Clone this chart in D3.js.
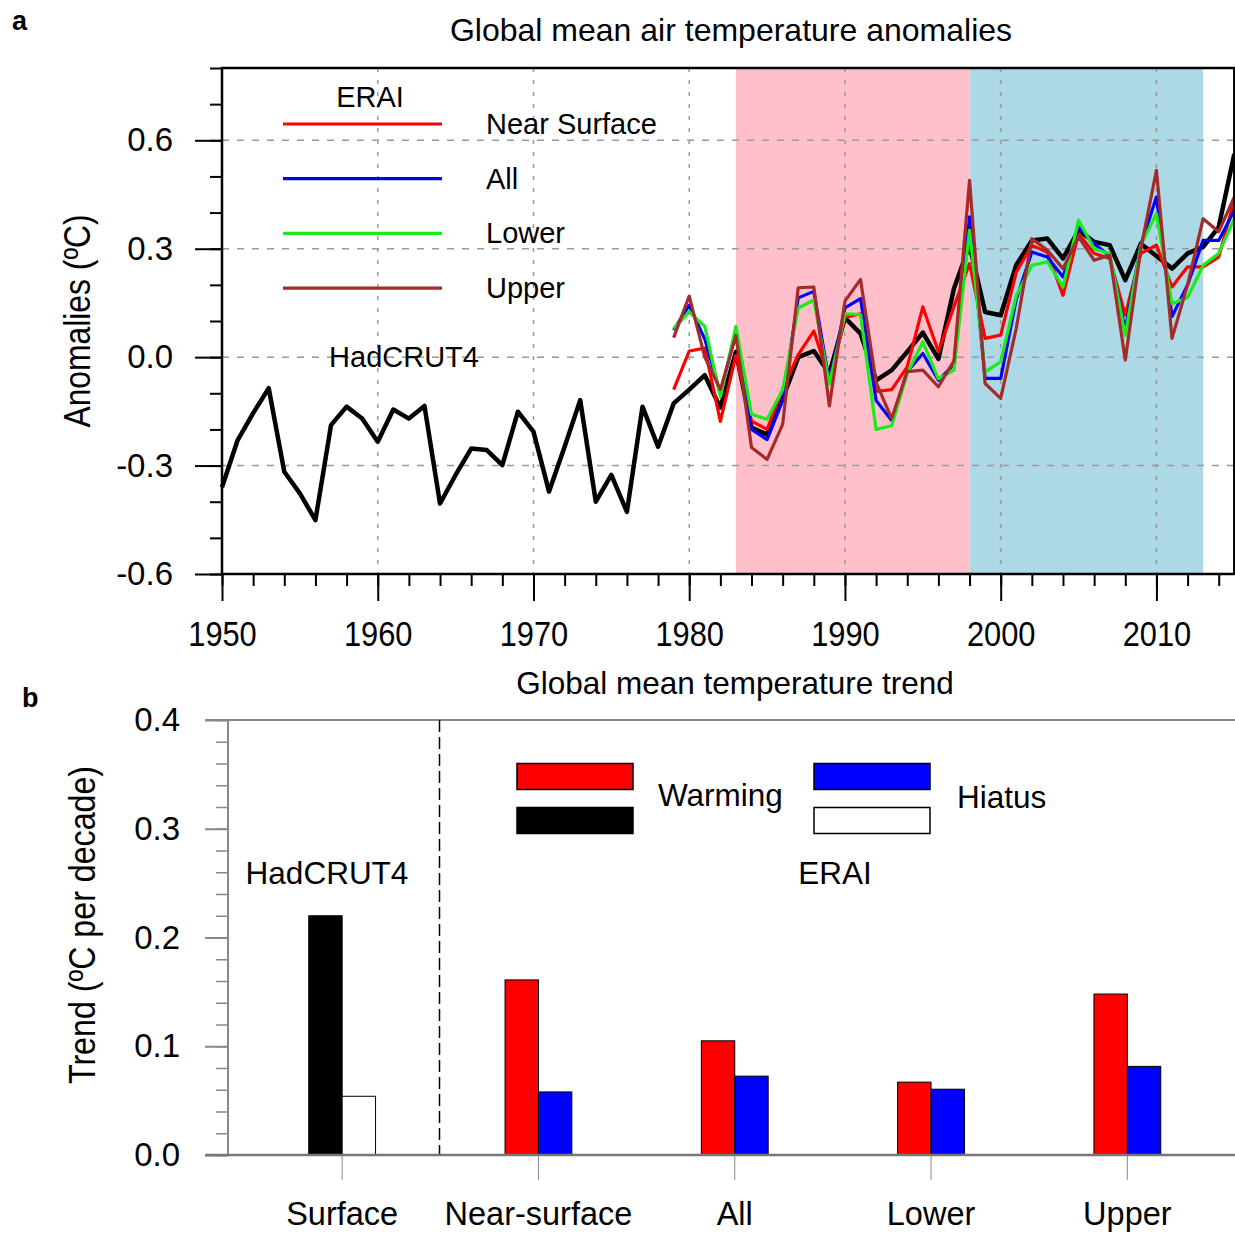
<!DOCTYPE html>
<html>
<head>
<meta charset="utf-8">
<script src="https://cdn.jsdelivr.net/npm/d3@7/dist/d3.min.js"></script>
<style>
  body { margin: 0; background: #fff; }
  svg { display: block; font-family: 'Liberation Sans', Arial, Helvetica, sans-serif; }
</style>
</head>
<body>
<svg id="chart" width="1235" height="1239"></svg>
<script>
// ---- panel a data ----
const hadYears = d3.range(1950, 2016);
const hadcrut4 = [
  -0.36, -0.23, -0.155, -0.086, -0.317, -0.377, -0.451, -0.188, -0.137, -0.17,
  -0.234, -0.145, -0.17, -0.135, -0.405, -0.326, -0.253, -0.257, -0.299, -0.151,
  -0.206, -0.372, -0.248, -0.119, -0.4, -0.326, -0.428, -0.137, -0.248, -0.128,
  -0.09, -0.05, -0.14, 0.015, -0.195, -0.214, -0.115, 0.0, 0.017, -0.045,
  0.109, 0.065, -0.064, -0.036, 0.015, 0.068, -0.005, 0.19, 0.31, 0.125,
  0.116, 0.255, 0.323, 0.328, 0.273, 0.351, 0.319, 0.31, 0.213, 0.314,
  0.28, 0.245, 0.287, 0.305, 0.36, 0.562
];
const eraiYears = d3.range(1979, 2016);
const eraiNear = [
  -0.09, 0.017, 0.025, -0.178, 0.005, -0.177, -0.2, -0.09, 0.007, 0.072,
  -0.06, 0.11, 0.12, -0.095, -0.09, -0.027, 0.139, 0.015, 0.14, 0.259,
  0.052, 0.061, 0.235, 0.31, 0.29, 0.171, 0.342, 0.287, 0.273, 0.116,
  0.287, 0.31, 0.194, 0.25, 0.25, 0.277, 0.434
];
const eraiAll = [
  0.075, 0.144, 0.05, -0.1, 0.07, -0.2, -0.228, -0.12, 0.164, 0.182,
  -0.07, 0.136, 0.162, -0.12, -0.175, -0.04, 0.01, -0.064, -0.02, 0.388,
  -0.059, -0.059, 0.16, 0.291, 0.277, 0.222, 0.36, 0.314, 0.28, 0.075,
  0.31, 0.443, 0.112, 0.2, 0.323, 0.323, 0.406
];
const eraiLower = [
  0.079, 0.125, 0.085, -0.11, 0.085, -0.158, -0.172, -0.09, 0.136, 0.158,
  -0.075, 0.12, 0.118, -0.2, -0.19, -0.045, 0.042, -0.06, -0.036, 0.351,
  -0.041, -0.013, 0.17, 0.254, 0.264, 0.194, 0.379, 0.3, 0.287, 0.06,
  0.31, 0.397, 0.148, 0.165, 0.254, 0.287, 0.383
];
const eraiUpper = [
  0.054, 0.169, 0.0, -0.09, 0.06, -0.25, -0.283, -0.186, 0.192, 0.194,
  -0.135, 0.155, 0.215, -0.07, -0.17, -0.04, -0.036, -0.082, -0.01, 0.489,
  -0.073, -0.114, 0.08, 0.328, 0.296, 0.245, 0.333, 0.268, 0.282, -0.008,
  0.3, 0.517, 0.052, 0.2, 0.383, 0.347, 0.443
];
const eraiNames = ['Near Surface', 'All', 'Lower', 'Upper'];
const warmingPeriod = [1983, 1998];
const hiatusPeriod = [1998, 2013];
const yTicksA = [-0.6, -0.3, 0.0, 0.3, 0.6];
const xTicksA = [1950, 1960, 1970, 1980, 1990, 2000, 2010];

// ---- panel b data ----
const trendCategories = ['Surface', 'Near-surface', 'All', 'Lower', 'Upper'];
const warmingTrend = [0.22, 0.161, 0.105, 0.067, 0.148];
const hiatusTrend = [0.054, 0.058, 0.0725, 0.0605, 0.0815];
const yTicksB = [0.0, 0.1, 0.2, 0.3, 0.4];

const eraiColors = ['#ff0000', '#0000ff', '#1aeb1a', '#a52a2a'];

const svg = d3.select('#chart');

// =================== panel a ===================
const x = d3.scaleLinear().domain([1950, 2015]).range([222, 1234.3]);
const y = d3.scaleLinear().domain([-0.6, 0.8]).range([574, 68]);

const gA = svg.append('g');

gA.append('rect')
    .attr('x', x(warmingPeriod[0])).attr('y', y(0.8))
    .attr('width', x(warmingPeriod[1]) - x(warmingPeriod[0]))
    .attr('height', y(-0.6) - y(0.8))
    .attr('fill', '#ffc0cb');
gA.append('rect')
    .attr('x', x(hiatusPeriod[0])).attr('y', y(0.8))
    .attr('width', x(hiatusPeriod[1]) - x(hiatusPeriod[0]))
    .attr('height', y(-0.6) - y(0.8))
    .attr('fill', '#add8e6');

// grid
gA.selectAll('.vgrid')
    .data(xTicksA.slice(1))
    .enter().append('line')
    .attr('x1', (d) => x(d)).attr('x2', (d) => x(d))
    .attr('y1', y(0.8)).attr('y2', y(-0.6))
    .attr('stroke', '#9a9a9a').attr('stroke-width', 1.5)
    .attr('stroke-dasharray', '4,8');
gA.selectAll('.hgrid')
    .data(yTicksA.slice(1))
    .enter().append('line')
    .attr('x1', x(1950)).attr('x2', x(2015))
    .attr('y1', (d) => y(d)).attr('y2', (d) => y(d))
    .attr('stroke', '#9a9a9a').attr('stroke-width', 1.5)
    .attr('stroke-dasharray', '7,8');

// lines
const line = d3.line()
    .x((d) => x(d[0]))
    .y((d) => y(d[1]));

gA.append('path')
    .datum(d3.zip(hadYears, hadcrut4))
    .attr('d', line)
    .attr('fill', 'none')
    .attr('stroke', '#000')
    .attr('stroke-width', 4.5)
    .attr('stroke-linejoin', 'round');

[eraiNear, eraiAll, eraiLower, eraiUpper].forEach((series, i) => {
  gA.append('path')
      .datum(d3.zip(eraiYears, series))
      .attr('d', line)
      .attr('fill', 'none')
      .attr('stroke', eraiColors[i])
      .attr('stroke-width', 3.2)
      .attr('stroke-linejoin', 'round');
});

// axes
const gy = gA.append('g')
    .attr('transform', 'translate(' + x(1950) + ',0)')
    .call(d3.axisLeft(y).tickValues(yTicksA).tickSize(27).tickPadding(22));
gy.select('.domain').remove();
gy.selectAll('line').attr('stroke', '#000').attr('stroke-width', 2);
gy.selectAll('text').attr('font-size', 33).attr('fill', '#000')
    .text((d) => d3.format('.1f')(d).replace('−', '-'));

gA.append('g')
    .attr('transform', 'translate(' + x(1950) + ',0)')
    .call(d3.axisLeft(y).tickValues(d3.range(-0.6, 0.81, 0.1)).tickSize(12).tickFormat(''))
    .call((g) => g.select('.domain').remove())
    .selectAll('line').attr('stroke', '#000').attr('stroke-width', 2);

const gx = gA.append('g')
    .attr('transform', 'translate(0,' + y(-0.6) + ')')
    .call(d3.axisBottom(x).tickValues(xTicksA).tickSize(27).tickPadding(20).tickFormat(d3.format('d')));
gx.select('.domain').remove();
gx.selectAll('line').attr('stroke', '#000').attr('stroke-width', 2);
gx.selectAll('text').attr('font-size', 35).attr('fill', '#000')
    .attr('transform', 'scale(0.88,1)');

gA.append('g')
    .attr('transform', 'translate(0,' + y(-0.6) + ')')
    .call(d3.axisBottom(x).tickValues(d3.range(1950, 2015, 2)).tickSize(12).tickFormat(''))
    .call((g) => g.select('.domain').remove())
    .selectAll('line').attr('stroke', '#000').attr('stroke-width', 2);

// frame
gA.append('rect')
    .attr('x', x(1950)).attr('y', y(0.8))
    .attr('width', x(2015) - x(1950)).attr('height', y(-0.6) - y(0.8))
    .attr('fill', 'none').attr('stroke', '#000').attr('stroke-width', 2.5);

// legend
gA.append('text')
    .attr('x', 370).attr('y', 107)
    .attr('text-anchor', 'middle').attr('font-size', 29)
    .text('ERAI');
const legA = gA.selectAll('.legA')
    .data(eraiNames)
    .enter().append('g')
    .attr('transform', (d, i) => 'translate(0,' + (124 + i * 54.7) + ')');
legA.append('line')
    .attr('x1', 283).attr('x2', 442)
    .attr('stroke', (d, i) => eraiColors[i]).attr('stroke-width', 3.2);
legA.append('text')
    .attr('x', 486).attr('y', 10)
    .attr('font-size', 29)
    .text((d) => d);

gA.append('text')
    .attr('x', 404).attr('y', 367)
    .attr('text-anchor', 'middle').attr('font-size', 29)
    .text('HadCRUT4');

// titles
svg.append('text')
    .attr('x', 731).attr('y', 41)
    .attr('text-anchor', 'middle').attr('font-size', 32)
    .text('Global mean air temperature anomalies');
svg.append('text')
    .attr('transform', 'translate(90,321) rotate(-90) scale(0.86,1)')
    .attr('text-anchor', 'middle').attr('font-size', 37)
    .text('Anomalies (ºC)');
svg.append('text')
    .attr('x', 12).attr('y', 30)
    .attr('font-size', 27).attr('font-weight', 'bold')
    .text('a');

// =================== panel b ===================
const xb = d3.scaleBand().domain(trendCategories).range([244, 1225.5]);
const yb = d3.scaleLinear().domain([0, 0.4]).range([1155, 720]);
const barW = 33.4;
const gB = svg.append('g');

svg.append('text')
    .attr('x', 735).attr('y', 694)
    .attr('text-anchor', 'middle').attr('font-size', 31.5)
    .text('Global mean temperature trend');
svg.append('text')
    .attr('x', 22).attr('y', 707)
    .attr('font-size', 27).attr('font-weight', 'bold')
    .text('b');

// frame lines
gB.append('line')
    .attr('x1', 205).attr('x2', 1235)
    .attr('y1', yb(0.4)).attr('y2', yb(0.4))
    .attr('stroke', '#888').attr('stroke-width', 2);
gB.append('line')
    .attr('x1', 228).attr('x2', 228)
    .attr('y1', yb(0.4)).attr('y2', yb(0))
    .attr('stroke', '#888').attr('stroke-width', 2);

// divider between datasets
gB.append('line')
    .attr('x1', 439.5).attr('x2', 439.5)
    .attr('y1', yb(0.4)).attr('y2', yb(0))
    .attr('stroke', '#000').attr('stroke-width', 1.5)
    .attr('stroke-dasharray', '12,5');

// y axis
const gyb = gB.append('g')
    .attr('transform', 'translate(228,0)')
    .call(d3.axisLeft(yb).tickValues(yTicksB).tickSize(23).tickPadding(25).tickFormat(d3.format('.1f')));
gyb.select('.domain').remove();
gyb.selectAll('line').attr('stroke', '#888').attr('stroke-width', 2);
gyb.selectAll('text').attr('font-size', 33).attr('fill', '#000');

gB.append('g')
    .attr('transform', 'translate(228,0)')
    .call(d3.axisLeft(yb).tickValues(d3.range(0, 0.401, 0.02)).tickSize(12).tickFormat(''))
    .call((g) => g.select('.domain').remove())
    .selectAll('line').attr('stroke', '#888').attr('stroke-width', 1.5);

// bars
const bars = gB.selectAll('.cat')
    .data(trendCategories)
    .enter().append('g');
bars.append('rect')
    .attr('x', (d) => xb(d) + xb.bandwidth() / 2 - barW)
    .attr('y', (d, i) => yb(warmingTrend[i]))
    .attr('width', barW)
    .attr('height', (d, i) => yb(0) - yb(warmingTrend[i]))
    .attr('fill', (d, i) => i === 0 ? '#000' : '#ff0000')
    .attr('stroke', '#000').attr('stroke-width', 1);
bars.append('rect')
    .attr('x', (d) => xb(d) + xb.bandwidth() / 2)
    .attr('y', (d, i) => yb(hiatusTrend[i]))
    .attr('width', barW)
    .attr('height', (d, i) => yb(0) - yb(hiatusTrend[i]))
    .attr('fill', (d, i) => i === 0 ? '#fff' : '#0000ff')
    .attr('stroke', '#000').attr('stroke-width', 1);

// baseline + category axis
gB.append('line')
    .attr('x1', 205).attr('x2', 1235)
    .attr('y1', yb(0)).attr('y2', yb(0))
    .attr('stroke', '#777').attr('stroke-width', 2.5);
const gxb = gB.append('g')
    .attr('transform', 'translate(0,' + yb(0) + ')')
    .call(d3.axisBottom(xb).tickSize(25).tickPadding(22));
gxb.select('.domain').remove();
gxb.selectAll('line').attr('stroke', '#888').attr('stroke-width', 1);
gxb.selectAll('text').attr('font-size', 32.5).attr('fill', '#000');

// legend b
const legB = [
  {x: 517, fill: ['#ff0000', '#000'], label: 'Warming', tx: 658, ty: 806},
  {x: 814, fill: ['#0000ff', '#fff'], label: 'Hiatus', tx: 957, ty: 808},
];
legB.forEach((l) => {
  l.fill.forEach((f, j) => {
    gB.append('rect')
        .attr('x', l.x).attr('y', 763.5 + j * 44)
        .attr('width', 116).attr('height', 26)
        .attr('fill', f).attr('stroke', '#000').attr('stroke-width', 1.5);
  });
  gB.append('text')
      .attr('x', l.tx).attr('y', l.ty)
      .attr('font-size', 31.5)
      .text(l.label);
});

gB.append('text')
    .attr('x', 327).attr('y', 884)
    .attr('text-anchor', 'middle').attr('font-size', 31.5)
    .text('HadCRUT4');
gB.append('text')
    .attr('x', 835).attr('y', 884)
    .attr('text-anchor', 'middle').attr('font-size', 31.5)
    .text('ERAI');

svg.append('text')
    .attr('transform', 'translate(95,925) rotate(-90) scale(0.87,1)')
    .attr('text-anchor', 'middle').attr('font-size', 37)
    .text('Trend (ºC per decade)');
</script>
</body>
</html>
